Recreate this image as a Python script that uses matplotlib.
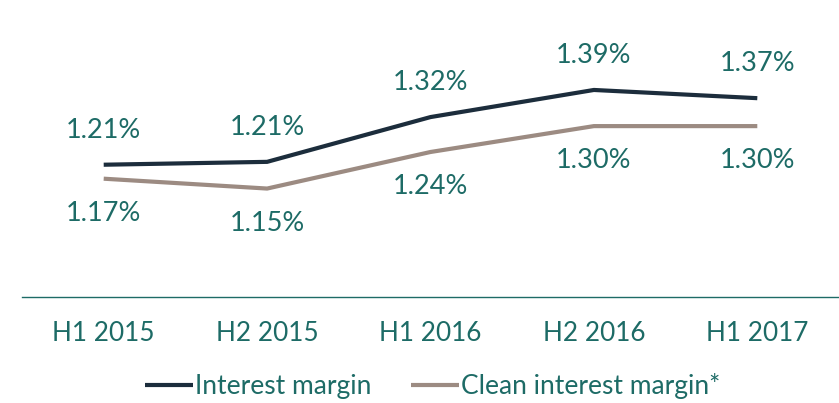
import matplotlib
matplotlib.use("Agg")
import matplotlib.pyplot as plt

periods = ["H1 2015", "H2 2015", "H1 2016", "H2 2016", "H1 2017"]
# line positions, labels show two decimals
interest_margin = [1.206, 1.213, 1.322, 1.388, 1.368]
clean_margin = [1.172, 1.148, 1.237, 1.300, 1.300]

dark = "#1c2d3c"
taupe = "#9c8b82"
teal = "#1d6b66"

plt.rcParams['font.family'] = ['Lato', 'DejaVu Sans']

fig = plt.figure(figsize=(8.39, 4.03), dpi=100)
ax = fig.add_axes([22 / 839, 106 / 403, 817 / 839, 297 / 403])

x = list(range(len(periods)))
l1, = ax.plot(x, interest_margin, color=dark, lw=3, solid_capstyle='butt', label="Interest margin")
l2, = ax.plot(x, clean_margin, color=taupe, lw=3, solid_capstyle='butt', label="Clean interest margin*")

for i, v in enumerate(interest_margin):
    ax.annotate(f"{v:.2f}%", (i, v), xytext=(0, 25), textcoords='offset points',
                ha='center', va='center', fontsize=19.5, color=teal)
for i, v in enumerate(clean_margin):
    ax.annotate(f"{v:.2f}%", (i, v), xytext=(0, -25), textcoords='offset points',
                ha='center', va='center', fontsize=19.5, color=teal)

ax.set_xlim(-0.5, 4.5)
ax.set_ylim(0.884, 1.607)
ax.set_xticks(x)
ax.set_xticklabels(periods, fontsize=18.8, color=teal)
ax.tick_params(axis='x', length=0, pad=17)
ax.set_yticks([])
for s in ['top', 'right', 'left']:
    ax.spines[s].set_visible(False)
ax.spines['bottom'].set_color(teal)
ax.spines['bottom'].set_linewidth(1)

leg = fig.legend(handles=[l1, l2], loc='center', bbox_to_anchor=(433 / 839, 17 / 403), ncol=2,
                 frameon=False, fontsize=19, handlelength=1.8, handletextpad=0.1,
                 columnspacing=1.5)
for t in leg.get_texts():
    t.set_color(teal)

fig.savefig("out.png", dpi=100)
